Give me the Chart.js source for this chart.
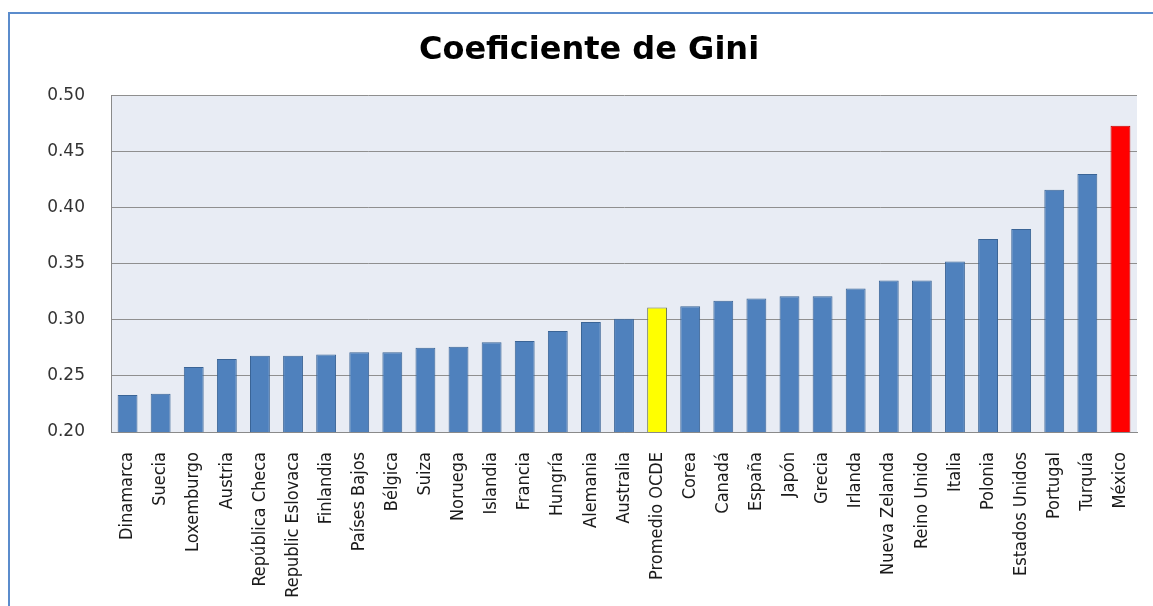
<!DOCTYPE html>
<html>
<head>
<meta charset="utf-8">
<script src="https://cdn.jsdelivr.net/npm/chart.js@4"></script>
<style>
  html, body { margin: 0; padding: 0; background: #ffffff; overflow: hidden; }
  #wrap { position: relative; width: 1153px; height: 606px; overflow: hidden; }
  #topline { position: absolute; left: 8px; top: 12px; width: 1145px; height: 2px; background: #5b8ccc; }
  #leftline { position: absolute; left: 8px; top: 12px; width: 2px; height: 594px; background: #5b8ccc; }
  canvas { position: absolute; left: 0; top: 0; }
</style>
</head>
<body>
<div id="wrap">
  <div id="topline"></div>
  <div id="leftline"></div>
  <canvas id="c" width="1153" height="606"></canvas>
</div>
<script>
const categories = ["Dinamarca","Suecia","Loxemburgo","Austria","República Checa","Republic Eslovaca","Finlandia","Países Bajos","Bélgica","Suiza","Noruega","Islandia","Francia","Hungría","Alemania","Australia","Promedio OCDE","Corea","Canadá","España","Japón","Grecia","Irlanda","Nueva Zelanda","Reino Unido","Italia","Polonia","Estados Unidos","Portugal","Turquía","México"];
const giniValues = [0.233,0.234,0.258,0.265,0.268,0.268,0.269,0.271,0.271,0.275,0.276,0.280,0.281,0.290,0.298,0.301,0.311,0.312,0.317,0.319,0.321,0.321,0.328,0.335,0.335,0.352,0.372,0.381,0.416,0.430,0.473];
const yTickLabels = ["0.20","0.25","0.30","0.35","0.40","0.45","0.50"];
const chartTitle = "Coeficiente de Gini";

const fillColors = categories.map(c => c === "Promedio OCDE" ? "#ffff00" : (c === "México" ? "#ff0000" : "#4f81bd"));
const edgeColors = categories.map(c => c === "Promedio OCDE" ? "#6f7a5a" : (c === "México" ? "#c80000" : "#3a6496"));

const plotBg = {
  id: 'plotBg',
  beforeDraw(chart) {
    const a = chart.chartArea, ctx = chart.ctx;
    ctx.save();
    ctx.fillStyle = '#e8ecf4';
    ctx.fillRect(a.left, a.top, a.right - a.left, a.bottom - a.top);
    ctx.restore();
  }
};

new Chart(document.getElementById('c'), {
  type: 'bar',
  data: {
    labels: categories,
    datasets: [{
      data: giniValues,
      backgroundColor: fillColors,
      borderColor: edgeColors,
      borderWidth: 1,
      categoryPercentage: 1.0,
      barPercentage: 0.6
    }]
  },
  options: {
    responsive: false,
    animation: false,
    devicePixelRatio: 1,
    layout: { padding: { left: 41, right: 16, top: 0, bottom: 0 } },
    plugins: {
      legend: { display: false },
      tooltip: { enabled: false },
      title: {
        display: true,
        text: chartTitle,
        color: '#000000',
        font: { family: "'DejaVu Sans', Verdana, sans-serif", size: 32, weight: 'bold', lineHeight: 1.2 },
        padding: { top: 31, bottom: 26 }
      }
    },
    scales: {
      x: {
        grid: { display: false, drawTicks: false },
        border: { display: true, color: '#8a8a8a', width: 1 },
        ticks: {
          autoSkip: false,
          minRotation: 90,
          maxRotation: 90,
          padding: 20,
          color: '#1a1a1a',
          font: { family: "'DejaVu Sans Condensed', 'DejaVu Sans', sans-serif", size: 18 }
        },
        afterFit(scale) { scale.height = 174; scale.paddingLeft = 0; scale.paddingRight = 0; }
      },
      y: {
        min: 0.20,
        max: 0.50,
        grid: { color: '#8f8f8f', lineWidth: 1, drawTicks: false },
        border: { display: true, color: '#8a8a8a', width: 1 },
        ticks: {
          stepSize: 0.05,
          padding: 26,
          color: '#333333',
          font: { family: "'DejaVu Sans', Verdana, sans-serif", size: 17 },
          callback: function(v, i) { return yTickLabels[i]; }
        },
        afterFit(scale) { scale.width = 70; }
      }
    }
  },
  plugins: [plotBg]
});
</script>
</body>
</html>
